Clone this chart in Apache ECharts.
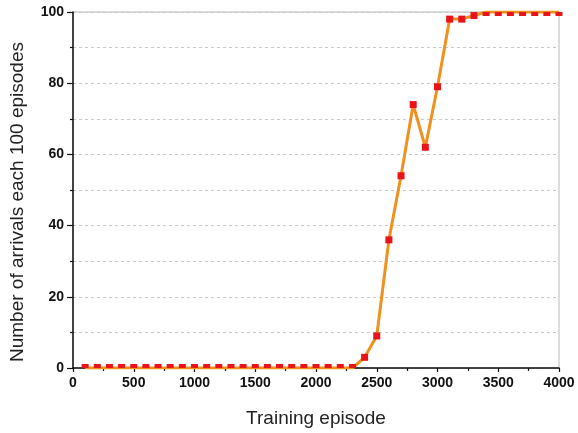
<!DOCTYPE html>
<html><head><meta charset="utf-8">
<script src="https://cdn.jsdelivr.net/npm/echarts@6/dist/echarts.min.js"></script>
<style>html,body{margin:0;padding:0;background:#fff}#c{width:578px;height:433px}</style>
</head><body><div id="c"></div>
<script>
const episodes = [100,200,300,400,500,600,700,800,900,1000,1100,1200,1300,1400,1500,1600,1700,1800,1900,2000,2100,2200,2300,2400,2500,2600,2700,2800,2900,3000,3100,3200,3300,3400,3500,3600,3700,3800,3900,4000];
const arrivals = [0,0,0,0,0,0,0,0,0,0,0,0,0,0,0,0,0,0,0,0,0,0,0,3,9,36,54,74,62,79,98,98,99,100,100,100,100,100,100,100];
const xTicks = [0,500,1000,1500,2000,2500,3000,3500,4000];
const yTicks = [0,20,40,60,80,100];

const chart = echarts.init(document.getElementById('c'));
const lab = {color:'#111', fontFamily:'Liberation Sans, Arial, sans-serif', fontWeight:'bold', fontSize:14, formatter:(v)=>String(v)};
const ttl = {fontFamily:'Liberation Sans, Arial, sans-serif', fontSize:19, color:'#222'};
chart.setOption({
  animation:false,
  grid:{left:73, right:19, top:12, bottom:65, containLabel:false, outerBoundsMode:'none', show:true, borderColor:'#b8b8b8', borderWidth:1},
  xAxis:{type:'value', min:xTicks[0], max:xTicks[xTicks.length-1], interval:500,
    name:'Training episode', nameLocation:'middle', nameGap:41,
    nameTextStyle:ttl,
    axisLine:{show:true, lineStyle:{color:'#111', width:1.5}},
    axisTick:{show:true, length:4, lineStyle:{color:'#111', width:1.2}},
    minorTick:{show:true, splitNumber:2, length:3, lineStyle:{color:'#111', width:1.2}},
    axisLabel:Object.assign({margin:8}, lab),
    splitLine:{show:false}},
  yAxis:{type:'value', min:yTicks[0], max:yTicks[yTicks.length-1], interval:20,
    name:'Number of arrivals each 100 episodes', nameLocation:'middle', nameGap:46, nameRotate:90,
    nameTextStyle:Object.assign({padding:[0,24,0,0]}, ttl),
    axisLine:{show:true, lineStyle:{color:'#111', width:1.5}},
    axisTick:{show:true, length:6, lineStyle:{color:'#111', width:1.2}},
    minorTick:{show:true, splitNumber:2, length:3, lineStyle:{color:'#111', width:1.2}},
    axisLabel:Object.assign({margin:9}, lab),
    splitLine:{show:true, lineStyle:{color:'#c8c8c8', type:[3,3], width:1}},
    minorSplitLine:{show:true, lineStyle:{color:'#c8c8c8', type:[3,3], width:1}}},
  series:[{
    type:'line',
    data:episodes.map((e,i)=>[e, arrivals[i]]),
    lineStyle:{color:'#F0901E', width:3},
    itemStyle:{color:'#E8141A'},
    symbol:'rect',
    symbolSize:(v)=> (v[1]<=0 || v[1]>=100) ? [7,4] : [7,7],
    symbolOffset:(v)=> v[1]<=0 ? [0,-2] : (v[1]>=100 ? [0,2] : [0,0]),
    clip:true,
    z:3
  }]
});
</script></body></html>
